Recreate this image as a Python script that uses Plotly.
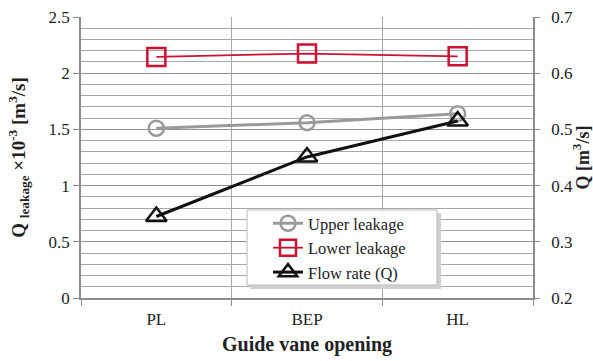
import plotly.graph_objects as go

# Guide vane opening operating points
openings = ["PL", "BEP", "HL"]

# Leakage flow (x10^-3 m^3/s), left axis
upper_leakage = [1.51, 1.56, 1.64]
lower_leakage = [2.145, 2.175, 2.15]

# Turbine flow rate (m^3/s), right axis
flow_rate = [0.345, 0.451, 0.515]

FONT = "Liberation Serif, Times New Roman, serif"
TXT = "#222222"
GRID = "#a8a8a8"
AXIS = "#8c8c8c"

# plot area in pixels (used to place the legend frame)
W, H = 593, 361
ML, MR, MT, MB = 81, 60, 17, 63
PW, PH = W - ML - MR, H - MT - MB


def px_x(p):
    return (p - ML) / PW


def px_y(p):
    return (H - MB - p) / PH


fig = go.Figure()

fig.add_trace(go.Scatter(
    x=openings, y=upper_leakage, name="Upper leakage",
    mode="lines+markers",
    line=dict(color="#9a9a9a", width=3),
    marker=dict(symbol="circle-open", size=15, color="#9a9a9a", line=dict(width=2.5)),
))
fig.add_trace(go.Scatter(
    x=openings, y=lower_leakage, name="Lower leakage",
    mode="lines+markers",
    line=dict(color="#cc1133", width=1.8),
    marker=dict(symbol="square-open", size=18, color="#cc1133", line=dict(width=2.5)),
))
fig.add_trace(go.Scatter(
    x=openings, y=flow_rate, name="Flow rate (Q)", yaxis="y2",
    mode="lines+markers",
    line=dict(color="#111111", width=3),
    marker=dict(symbol="triangle-up-open", size=18, color="#111111", line=dict(width=2.5)),
))

# legend frame with a soft drop shadow
fig.add_shape(type="rect", xref="paper", yref="paper", layer="above",
              x0=px_x(250), x1=px_x(441), y0=px_y(289), y1=px_y(213),
              fillcolor="#d0d0d0", line=dict(width=0))
fig.add_shape(type="rect", xref="paper", yref="paper", layer="above",
              x0=px_x(247), x1=px_x(437), y0=px_y(285), y1=px_y(210),
              fillcolor="white", line=dict(color="#b8b8b8", width=1))

fig.update_layout(
    width=W, height=H,
    margin=dict(l=ML, r=MR, t=MT, b=MB, autoexpand=False),
    paper_bgcolor="white", plot_bgcolor="white",
    font=dict(family=FONT, size=17, color=TXT),
    showlegend=True,
    legend=dict(
        x=px_x(268), y=px_y(206), xanchor="left", yanchor="top",
        bgcolor="rgba(0,0,0,0)", borderwidth=0,
        font=dict(family=FONT, size=16.5, color=TXT),
        itemwidth=30, tracegroupgap=0,
    ),
    xaxis=dict(
        type="category", range=[-0.5, 2.5], automargin=False,
        tickson="boundaries", ticks="outside", ticklen=6, tickcolor=AXIS,
        ticklabelstandoff=5,
        showgrid=True, gridcolor=GRID, gridwidth=1,
        showline=True, linecolor=AXIS, linewidth=1.5,
        tickfont=dict(family=FONT, size=17, color=TXT),
        title=dict(text="<b>Guide vane opening</b>", font=dict(family=FONT, size=20, color=TXT), standoff=9),
    ),
    yaxis=dict(
        range=[0, 2.5], dtick=0.5, tick0=0, automargin=False,
        ticks="outside", ticklen=6, tickcolor=AXIS,
        showgrid=True, gridcolor="#909090", gridwidth=1,
        minor=dict(dtick=0.1, showgrid=True, gridcolor=GRID, gridwidth=1, ticks=""),
        showline=True, linecolor=AXIS, linewidth=1.5,
        zeroline=False,
        tickfont=dict(family=FONT, size=17, color=TXT),
        title=dict(text="<b>Q <sub>leakage</sub> ×10<sup>-3</sup> [m<sup>3</sup>/s]</b>",
                   font=dict(family=FONT, size=19, color=TXT), standoff=18),
    ),
    yaxis2=dict(
        range=[0.2, 0.7], dtick=0.1, tick0=0.2, automargin=False,
        overlaying="y", side="right",
        ticks="outside", ticklen=5, tickcolor=AXIS,
        ticklabelstandoff=8,
        showgrid=False, zeroline=False,
        showline=True, linecolor=AXIS, linewidth=1.5,
        tickfont=dict(family=FONT, size=17, color=TXT),
        title=dict(text="<b>Q [m<sup>3</sup>/s]</b>", font=dict(family=FONT, size=18, color=TXT), standoff=10),
    ),
)

fig.write_html("out.html")
